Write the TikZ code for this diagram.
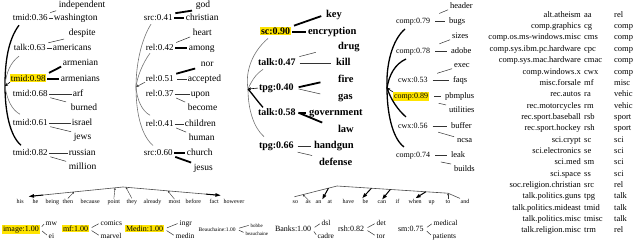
\documentclass[tikz,border=0pt]{standalone}
\usepackage{fontspec}
\setmainfont{Liberation Serif}
\usetikzlibrary{arrows.meta,calc}
\definecolor{hly}{RGB}{255,228,0}
\begin{document}
\begin{tikzpicture}[x=1pt,y=-1pt,
 lb/.style={anchor=mid west,inner sep=0.6pt,font=\fontsize{9}{10}\selectfont},
 wd/.style={anchor=mid west,inner sep=0.6pt,font=\fontsize{9.5}{10}\selectfont},
 lb3/.style={anchor=mid west,inner sep=0.8pt,font=\fontsize{10}{11}\selectfont\bfseries},
 wd3/.style={anchor=mid west,inner sep=0.8pt,font=\fontsize{10.5}{11}\selectfont\bfseries},
 lb4/.style={anchor=mid west,inner sep=0.8pt,font=\fontsize{8}{9}\selectfont},
 wd4/.style={anchor=mid west,inner sep=0.8pt,font=\fontsize{8.5}{9}\selectfont},
 tb/.style={inner sep=0pt,font=\fontsize{8.5}{9}\selectfont},
 bw/.style={anchor=mid west,inner sep=0.5pt,font=\fontsize{6}{6}\selectfont},
 bl/.style={anchor=mid west,inner sep=0.8pt,font=\fontsize{8}{8}\selectfont},
 bs/.style={anchor=mid west,inner sep=0.5pt,font=\fontsize{7.5}{8}\selectfont},
 bt/.style={anchor=mid west,inner sep=0.5pt,font=\fontsize{5}{5}\selectfont},
 hl/.style={fill=hly},
 dsh/.style={draw=black!80,line width=0.5pt,shorten <=0.4pt,shorten >=0.4pt},
 dshk/.style={draw=black,line width=1.8pt,shorten <=0.8pt,shorten >=0.8pt},
 sl/.style={draw=black!80,line width=0.5pt,shorten <=2pt,shorten >=2pt},
 slk/.style={draw=black,line width=1.8pt,shorten <=2pt,shorten >=2pt},
 gry/.style={draw=black!55,line width=0.6pt},
 tk/.style={draw=black,line width=1.3pt},
 ln/.style={draw=black!70,line width=0.6pt},
 sar/.style={draw=black!80,line width=0.4pt,-{Stealth[length=2.2pt,width=2pt]}},
 bar/.style={draw=black,line width=1pt,-{Triangle[length=5pt,width=3.5pt]}},
 rar/.style={draw=black,line width=0.6pt,-{Stealth[length=3pt,width=3pt]}}
]
\useasboundingbox (0,0) rectangle (640,243);

% ---------- panel 1 ----------
\node[lb] (a1) at (12,18) {tmid:0.36};
\node[wd] (a1m) at (53,18) {washington};
\node[wd] (a1u) at (58,5) {independent};
\draw[dsh] (a1.mid east) -- (a1m.mid west);
\draw[sl] (a1.north east) -- (a1u.south west);
\node[lb] (a2) at (13,48) {talk:0.63};
\node[wd] (a2m) at (52,48) {americans};
\node[wd] (a2u) at (68,33) {despite};
\draw[dsh] (a2.mid east) -- (a2m.mid west);
\draw[sl,shorten >=4pt] (a2.north east) -- (a2u.south west);
\node[lb,hl] (a3) at (10,79) {tmid:0.98};
\node[wd] (a3m) at (60,79) {armenians};
\node[wd] (a3u) at (62,63) {armenian};
\draw[dshk] (a3.mid east) -- (a3m.mid west);
\draw[slk,shorten <=3pt,shorten >=1pt] (a3.north east) -- (a3u.south west);
\node[lb] (a4) at (12,94) {tmid:0.68};
\node[wd] (a4m) at (72,94) {arf};
\node[wd] (a4d) at (70,108) {burned};
\draw[dsh] (a4.mid east) -- (a4m.mid west);
\draw[sl,shorten >=4pt] (a4.south east) -- (a4d.north west);
\node[lb] (a5) at (12,123) {tmid:0.61};
\node[wd] (a5m) at (71,123) {israel};
\node[wd] (a5d) at (73,137) {jews};
\draw[dsh] (a5.mid east) -- (a5m.mid west);
\draw[sl] (a5.south east) -- (a5d.north west);
\node[lb] (a6) at (12,153) {tmid:0.82};
\node[wd] (a6m) at (68,153) {russian};
\node[wd] (a6d) at (68,167) {million};
\draw[dsh] (a6.mid east) -- (a6m.mid west);
\draw[sl] (a6.south east) -- (a6d.north west);
\coordinate (r1) at (5,86);
\draw[tk] ([shift={(7,4)}]a1.south west) .. controls (8,40) and (5,62) .. (r1)
  .. controls (5,112) and (10,136) .. ([shift={(9,-3)}]a6.north west);
\draw[gry] (r1) .. controls (6,72) and (11,62) .. ([shift={(6,5)}]a2.south west);
\draw[gry] (r1) .. controls (7,100) and (12,110) .. ([shift={(8,-4)}]a5.north west);
\draw[rar] (a3.south west) -- (r1);

% ---------- panel 2 ----------
\node[lb] (c1) at (143,18) {src:0.41};
\node[wd] (c1m) at (185,18) {christian};
\node[wd] (c1u) at (195,5) {god};
\draw[dshk] (c1.mid east) -- (c1m.mid west);
\draw[slk,shorten >=3pt] (c1.north east) -- (c1u.south west);
\node[lb] (c2) at (145,48) {rel:0.42};
\node[wd] (c2m) at (188,48) {among};
\node[wd] (c2u) at (192,33) {heart};
\draw[dshk] (c2.mid east) -- (c2m.mid west);
\draw[sl] (c2.north east) -- (c2u.south west);
\node[lb] (c3) at (145,79) {rel:0.51};
\node[wd] (c3m) at (187,79) {accepted};
\node[wd] (c3u) at (200,64) {nor};
\draw[dsh,shorten <=3pt] (c3.mid east) -- (c3m.mid west);
\draw[slk,shorten >=5pt] (c3.north east) -- (c3u.south west);
\node[lb] (c4) at (145,94) {rel:0.37};
\node[wd] (c4m) at (190,94) {upon};
\node[wd] (c4d) at (187,108) {become};
\draw[dsh] (c4.mid east) -- (c4m.mid west);
\draw[sl] (c4.south east) -- (c4d.north west);
\node[lb] (c5) at (145,124) {rel:0.41};
\node[wd] (c5m) at (184,124) {children};
\node[wd] (c5d) at (188,138) {human};
\draw[dsh] (c5.mid east) -- (c5m.mid west);
\draw[sl] (c5.south east) -- (c5d.north west);
\node[lb] (c6) at (143,153) {src:0.60};
\node[wd] (c6m) at (186,153) {church};
\node[wd] (c6d) at (193,168) {jesus};
\draw[dshk] (c6.mid east) -- (c6m.mid west);
\draw[slk] (c6.south east) -- (c6d.north west);
\coordinate (r2) at (136,87);
\draw[gry] ([shift={(8,3)}]c1.south west) .. controls (141,40) and (136,65) .. (r2);
\draw[gry] ([shift={(5,2)}]c2.south west) .. controls (142,64) and (137,78) .. (r2);
\draw[gry] (r2) .. controls (137,100) and (142,111) .. ([shift={(5,-4)}]c5.north west);
\draw[gry] (r2) .. controls (136,115) and (142,136) .. ([shift={(10,-3)}]c6.north west);
\draw[rar,black!70] (c3.south west) -- (r2);

% ---------- panel 3 ----------
\node[lb3,hl] (d1) at (260,32) {sc:0.90};
\node[wd3] (d1m) at (307,32) {encryption};
\node[wd3] (d1u) at (325,15) {key};
\draw[dshk] (d1.mid east) -- (d1m.mid west);
\draw[slk,shorten <=3pt,shorten >=4pt] (d1.north east) -- (d1u.west);
\node[lb3] (d2) at (257,63) {talk:0.47};
\node[wd3] (d2m) at (335,63) {kill};
\node[wd3] (d2u) at (337,47) {drug};
\draw[dsh,shorten <=3pt,shorten >=4pt] (d2.mid east) -- (d2m.mid west);
\draw[sl,shorten <=3pt,shorten >=22pt] (d2.north east) -- (d2u.west);
\node[lb3] (d3) at (258,88) {tpg:0.40};
\node[wd3] (d3u) at (337,80) {fire};
\node[wd3] (d3d) at (337,97) {gas};
\draw[slk,shorten <=4pt,shorten >=17pt] (d3.east) -- (d3u.west);
\draw[sl,shorten <=4pt,shorten >=17pt] (d3.east) -- (d3d.west);
\node[lb3] (d4) at (257,113) {talk:0.58};
\node[wd3] (d4m) at (308,113) {government};
\node[wd3] (d4d) at (337,130) {law};
\draw[dshk,shorten <=2pt,shorten >=2pt] (d4.mid east) -- (d4m.mid west);
\draw[slk,shorten <=2pt,shorten >=16pt] (d4.east) -- (d4d.west);
\node[lb3] (d5) at (258,146) {tpg:0.66};
\node[wd3] (d5m) at (313,146) {handgun};
\node[wd3] (d5d) at (318,163) {defense};
\draw[dsh,shorten <=3pt,shorten >=2pt] (d5.mid east) -- (d5m.mid west);
\draw[sl,shorten <=3pt,shorten >=6pt] (d5.south east) -- (d5d.north west);
\coordinate (r3) at (248,89);
\draw[gry] ([shift={(8,3)}]d1.south west) .. controls (252,52) and (245,72) .. (r3)
  .. controls (248,110) and (254,128) .. ([shift={(6,-4)}]d5.north west);
\draw[gry] (r3) .. controls (252,80) and (256,74) .. ([shift={(6,3)}]d2.south west);
\draw[tk] (r3) .. controls (254,96) and (258,102) .. ([shift={(6,0)}]d4.north west);
\draw[rar] (d3.west) -- (r3);

% ---------- panel 4 ----------
\node[lb4] (e1) at (395,21) {comp:0.79};
\node[wd4] (e1m) at (448,21) {bugs};
\node[wd4] (e1u) at (449,6) {header};
\node[lb4] (e2) at (395,51) {comp:0.78};
\node[wd4] (e2m) at (450,51) {adobe};
\node[wd4] (e2u) at (451,36) {sizes};
\node[lb4] (e3) at (397,80) {cwx:0.53};
\node[wd4] (e3m) at (452,80) {faqs};
\node[wd4] (e3u) at (453,65) {exec};
\node[lb4,hl] (e4) at (393,96) {comp:0.89};
\node[wd4] (e4m) at (444,96) {pbmplus};
\node[wd4] (e4d) at (448,110) {utilities};
\node[lb4] (e5) at (397,126) {cwx:0.56};
\node[wd4] (e5m) at (450,126) {buffer};
\node[wd4] (e5d) at (456,140) {ncsa};
\node[lb4] (e6) at (395,155) {comp:0.74};
\node[wd4] (e6m) at (450,155) {leak};
\node[wd4] (e6d) at (453,169) {builds};
\foreach \e in {e1,e2,e3,e5,e6}
  \draw[dsh,shorten <=4pt,shorten >=3pt] (\e.mid east) -- (\e m.mid west);
\draw[dsh,shorten <=5pt,shorten >=3pt] (e4.mid east) -- (e4m.mid west);
\foreach \e in {e1,e2,e3}
  \draw[sl,shorten <=9pt,shorten >=1pt] (\e.north east) -- (\e u.south west);
\foreach \e in {e4,e5,e6}
  \draw[sl,shorten <=10pt,shorten >=2pt] (\e.south east) -- (\e d.north west);
\coordinate (r4) at (387,88);
\draw[tk] ([shift={(10,3)}]e1.south west) .. controls (392,40) and (386,65) .. (r4)
  .. controls (387,112) and (392,138) .. ([shift={(9,-4)}]e6.north west);
\draw[tk] ([shift={(11,3)}]e2.south west) .. controls (395,64) and (389,75) .. (r4)
  .. controls (391,100) and (398,110) .. ([shift={(9,-5)}]e5.north west);
\draw[rar] (e4.north west) -- (r4);

% ---------- table ----------
\foreach \n/\a/\c [count=\i from 0] in {alt.atheism/aa/rel, comp.graphics/cg/comp,
  comp.os.ms-windows.misc/cms/comp, comp.sys.ibm.pc.hardware/cpc/comp,
  comp.sys.mac.hardware/cmac/comp, comp.windows.x/cwx/comp, misc.forsale/mf/misc,
  rec.autos/ra/vehic, rec.motorcycles/rm/vehic, rec.sport.baseball/rsb/sport,
  rec.sport.hockey/rsh/sport, sci.crypt/sc/sci, sci.electronics/se/sci, sci.med/sm/sci,
  sci.space/ss/sci, soc.religion.christian/src/rel, talk.politics.guns/tpg/talk,
  talk.politics.mideast/tmid/talk, talk.politics.misc/tmisc/talk, talk.religion.misc/trm/rel}{
  \node[tb,anchor=mid east] (tn\i) at (581,{15+11.35*\i}) {\n};
  \node[tb,anchor=mid west] (ta\i) at (584,{15+11.35*\i}) {\a};
  \node[tb,anchor=mid west] (tc\i) at (614,{15+11.35*\i}) {\c};
}

% ---------- bottom word rows ----------
\foreach \w/\x in {his/16, he/32, being/45, then/62, because/80, point/107, they/126,
  already/143, most/168, before/185, fact/209, however/223, so/292, as/305, an/315,
  at/327, have/342, be/362, can/377, if/395, when/408, up/428, to/445, and/460}
  \node[bw] (b\w) at (\x,201) {\w};
\coordinate (ap1) at (123,187);
\coordinate (L1) at ([shift={(-3,-2)}]bhe.north west);
\coordinate (R1) at ([shift={(1,-3)}]bfact.north east);
\draw[ln] (L1) -- (ap1) -- (R1);
\draw[bar] ($(ap1)!0.85!(L1)$) -- (L1);
\draw[bar] ($(ap1)!0.85!(R1)$) -- (R1);
\draw[sar] (bthen.north) -- ($(ap1)!0.52!(L1)$);
\draw[sar] (bpoint.north) -- ($(ap1)!0.085!(L1)$);
\draw[sar] (bthey.north) -- ($(ap1)!0.03!(R1)$);
\draw[sar] (bmost.north) -- ($(ap1)!0.46!(R1)$);
\coordinate (ap2) at (337,186);
\coordinate (S2) at ([shift={(-1,-3)}]bso.north);
\coordinate (E2) at ([shift={(0,-6)}]bto.north);
\draw[ln] (S2) -- (ap2) -- (E2) -- (band.north west);
\draw[sar] (bas.north) -- ($(S2)!0.2!(ap2)$);
\draw[sar] (bto.north) -- (E2);
\draw[bar,shorten >=0.5pt] ($(S2)!0.8!(ap2)$) -- (ban.north east);
\draw[bar,shorten >=0.5pt] ($(ap2)!0.31!(E2)$) -- (bbe.north west);
\draw[bar,shorten >=0.5pt] ($(ap2)!0.48!(E2)$) -- (bcan.north);
\draw[bar,shorten >=0.5pt] ($(ap2)!0.80!(E2)$) -- (bwhen.north);

% ---------- bottom label row ----------
\node[bl,hl] (g1) at (2,229) {image:1.00};
\node[bs] (g1u) at (45,223) {mw};
\node[bs] (g1d) at (48,236) {ei};
\node[bl,hl] (g2) at (62,229) {mf:1.00};
\node[bs] (g2u) at (100,223) {comics};
\node[bs] (g2d) at (100,236) {marvel};
\node[bl,hl] (g3) at (125,229) {Medin:1.00};
\node[bs] (g3u) at (179,223) {ingr};
\node[bs] (g3d) at (175,236) {medin};
\node[anchor=mid west,inner sep=0.5pt,font=\fontsize{5.5}{6}\selectfont] (g4) at (198,229) {Beauchaine:1.00};
\node[bt] (g4u) at (250,225) {bobbe};
\node[bt] (g4d) at (245,233) {beauchaine};
\node[bl] (g5) at (274,229) {Banks:1.00};
\node[bs] (g5u) at (321,223) {dsl};
\node[bs] (g5d) at (317,236) {cadre};
\node[bl] (g6) at (337,229) {rsh:0.82};
\node[bs] (g6u) at (376,223) {det};
\node[bs] (g6d) at (376,236) {tor};
\node[bl] (g7) at (397,229) {sm:0.75};
\node[bs] (g7u) at (433,223) {medical};
\node[bs] (g7d) at (432,236) {patients};
\foreach \g in {g1,g2,g3,g4,g5,g6,g7}{
  \draw[sl,shorten <=3pt,shorten >=1.5pt] (\g.mid east) -- (\g u.mid west);
  \draw[sl,shorten <=3pt,shorten >=1.5pt] (\g.mid east) -- (\g d.mid west);
}
\end{tikzpicture}
\end{document}
